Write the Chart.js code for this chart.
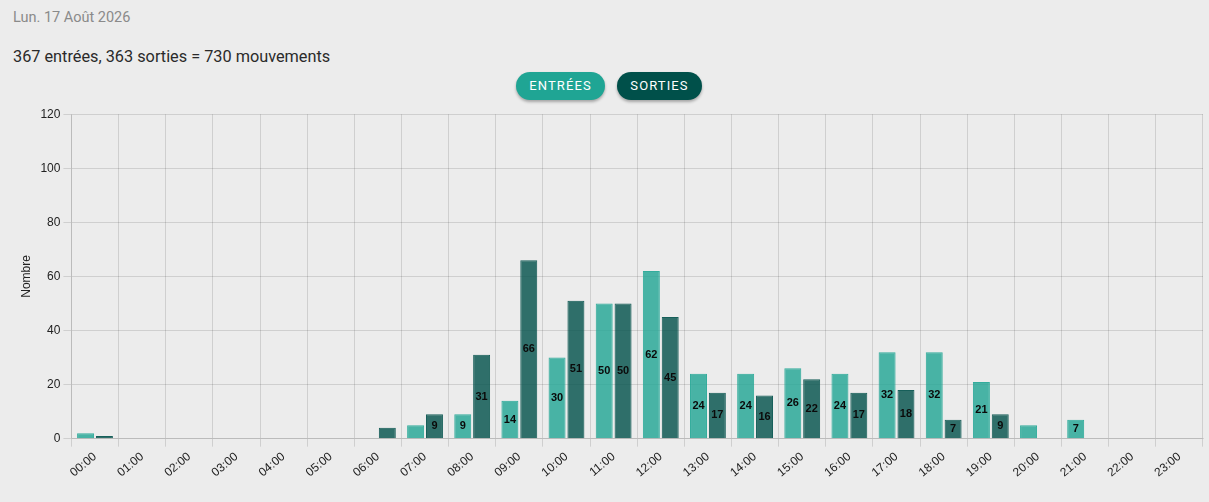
<!DOCTYPE html>
<html>
<head>
<meta charset="utf-8">
<script src="https://cdn.jsdelivr.net/npm/chart.js@4"></script>
<style>
  html, body { margin:0; padding:0; background:#ececec; width:1209px; height:502px; overflow:hidden; font-family: Roboto, "Liberation Sans", sans-serif; }
  #date { position:absolute; left:13px; top:9px; font-size:14.5px; color:#8a8a8a; }
  #summary { position:absolute; left:13px; top:47px; font-size:16.3px; color:#2a2a2a; }
  #legend { position:absolute; left:0; top:72px; width:1209px; display:flex; justify-content:center; gap:12px; padding-left:9px; box-sizing:border-box; }
  .btn { height:28px; line-height:28px; border-radius:14px; color:#fff; font-size:13px; letter-spacing:1.1px; text-transform:uppercase; box-shadow:0 2px 3px rgba(0,0,0,0.3); text-align:center; }
  #b1 { background:#1fa594; width:89px; }
  #b2 { background:#00504a; width:85px; }
  #wrap { position:absolute; left:0; top:104px; width:1209px; height:398px; }
</style>
</head>
<body>
<div id="date">Lun. 17 Août 2026</div>
<div id="summary">367 entrées, 363 sorties = 730 mouvements</div>
<div id="legend"><div class="btn" id="b1">Entrées</div><div class="btn" id="b2">Sorties</div></div>
<div id="wrap"><canvas id="c"></canvas></div>
<script>
const hours = ["00:00","01:00","02:00","03:00","04:00","05:00","06:00","07:00","08:00","09:00","10:00","11:00","12:00","13:00","14:00","15:00","16:00","17:00","18:00","19:00","20:00","21:00","22:00","23:00"];
const entrees = [2,0,0,0,0,0,0,5,9,14,30,50,62,24,24,26,24,32,32,21,5,7,0,0];
const sorties = [1,0,0,0,0,0,4,9,31,66,51,50,45,17,16,22,17,18,7,9,0,0,0,0];
const yTicks = [0,20,40,60,80,100,120];

const labelPlugin = {
  id: 'inlabels',
  afterDatasetsDraw(chart) {
    const ctx = chart.ctx;
    ctx.save();
    ctx.font = 'bold 11px "Liberation Sans", Arial, sans-serif';
    ctx.fillStyle = '#0a0a0a';
    ctx.textAlign = 'center';
    ctx.textBaseline = 'middle';
    chart.data.datasets.forEach((ds, i) => {
      const meta = chart.getDatasetMeta(i);
      meta.data.forEach((bar, j) => {
        const v = ds.data[j];
        if (v > 5) {
          ctx.fillText(String(v), bar.x, (bar.y + bar.base) / 2);
        }
      });
    });
    ctx.restore();
  }
};

Chart.defaults.font.family = '"Liberation Sans", Arial, sans-serif';
Chart.defaults.color = '#222';

new Chart(document.getElementById('c'), {
  type: 'bar',
  data: {
    labels: hours,
    datasets: [
      { label: 'Entrées', data: entrees, backgroundColor: 'rgba(31,165,148,0.8)', borderColor: 'rgba(31,165,148,0.9)',
        borderWidth: ctx => ctx.raw ? 1 : 0 },
      { label: 'Sorties', data: sorties, backgroundColor: 'rgba(0,80,74,0.8)', borderColor: 'rgba(0,80,74,0.9)',
        borderWidth: ctx => ctx.raw ? 1 : 0 }
    ]
  },
  options: {
    responsive: true,
    maintainAspectRatio: false,
    animation: false,
    layout: { padding: { top: 7, right: 6, bottom: 19, left: 15 } },
    plugins: { legend: { display: false }, tooltip: { enabled: false } },
    scales: {
      x: {
        grid: { color: 'rgba(0,0,0,0.12)', offset: true },
        ticks: { minRotation: 40, maxRotation: 40, font: { size: 12 }, color: '#222' }
      },
      y: {
        min: 0, max: 120,
        afterBuildTicks: axis => { axis.ticks = yTicks.map(v => ({ value: v })); },
        grid: { color: 'rgba(0,0,0,0.12)' },
        ticks: { font: { size: 12 }, color: '#222' },
        title: { display: true, text: 'Nombre', font: { size: 12 }, color: '#222' }
      }
    }
  },
  plugins: [labelPlugin]
});
</script>
</body>
</html>
